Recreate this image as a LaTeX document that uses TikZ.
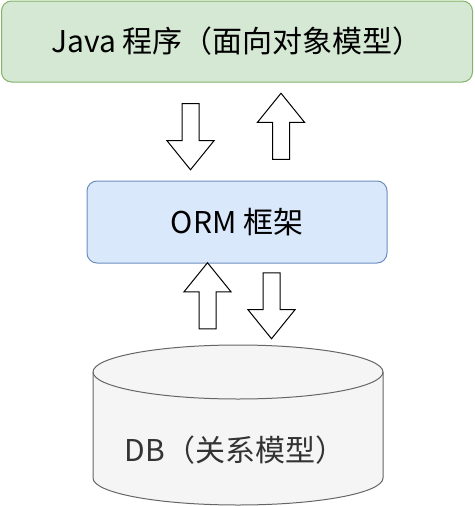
\documentclass[tikz,border=0pt]{standalone}
\usepackage{fontspec}
\setmainfont{Noto Sans CJK SC}
\usetikzlibrary{shapes.arrows}

\definecolor{javafill}{HTML}{D5E8D4}
\definecolor{javaline}{HTML}{82B366}
\definecolor{ormfill}{HTML}{DAE8FC}
\definecolor{ormline}{HTML}{6C8EBF}
\definecolor{dbfill}{HTML}{F5F5F5}
\definecolor{dbline}{HTML}{666666}
\definecolor{dbtext}{HTML}{333333}

\begin{document}
\begin{tikzpicture}[x=1pt,y=-1pt,
    layer/.style={draw, rounded corners=10pt, line width=1pt,
      font=\fontsize{30}{36}\selectfont},
    flow/.style={draw, single arrow, line width=1pt, fill=white,
      minimum height=66pt, minimum width=46pt, inner sep=8pt,
      single arrow head extend=15pt, single arrow tip angle=78,
      outer sep=0pt}]
  \useasboundingbox (0,0) rectangle (474,506);
  % java program
  \node[layer, fill=javafill, draw=javaline, minimum width=471pt,
    minimum height=81pt] (java) at (237,41.5) {Java 程序（面向对象模型）};
  % orm layer
  \node[layer, fill=ormfill, draw=ormline, minimum width=300pt,
    minimum height=82pt] (orm) at (237,222) {ORM 框架};
  % arrows between java and orm
  \node[flow, shape border rotate=270] (javadown) at (190.5,131.5) {};
  \node[flow, shape border rotate=90] (javaup) at (281,131.5) {};
  % arrows between orm and db
  \node[flow, shape border rotate=90] (dbup) at (207.5,301) {};
  \node[flow, shape border rotate=270] (dbdown) at (271.5,300.5) {};
  % database
  \draw[fill=dbfill, draw=dbline, line width=1pt]
    (93,372) -- (93,478) arc[start angle=180, end angle=360,
      x radius=145pt, y radius=27pt] -- (383,372)
    arc[start angle=0, end angle=180, x radius=145pt, y radius=27pt]
    -- cycle;
  \draw[draw=dbline, line width=1pt]
    (93,372) arc[start angle=180, end angle=360,
      x radius=145pt, y radius=27pt];
  \node[text=dbtext, font=\fontsize{30}{36}\selectfont] (db) at (235,450)
    {DB（关系模型）};
\end{tikzpicture}
\end{document}
